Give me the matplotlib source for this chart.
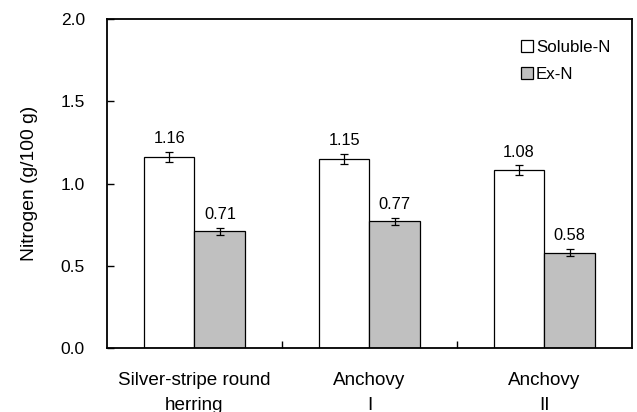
import matplotlib
matplotlib.use('Agg')
import matplotlib.pyplot as plt
from matplotlib.lines import Line2D
import numpy as np

plt.rcParams['font.family'] = ['Liberation Sans', 'DejaVu Sans']

categories = ['Silver-stripe round\nherring', 'Anchovy\nI', 'Anchovy\nII']
soluble_n = [1.16, 1.15, 1.08]
soluble_err = [0.032, 0.03, 0.03]
ex_n = [0.71, 0.77, 0.58]
ex_err = [0.02, 0.022, 0.022]


def main():
    fig = plt.figure(figsize=(6.37, 4.12), dpi=100)
    ax = fig.add_axes([0.168, 0.155, 0.824, 0.799])

    x = np.arange(len(categories))
    w = 0.29
    ekw = dict(ecolor='black', elinewidth=0.9, capsize=3.2, capthick=0.9)
    ax.bar(x - w / 2, soluble_n, w, color='white', edgecolor='black', linewidth=0.9,
           yerr=soluble_err, error_kw=ekw)
    ax.bar(x + w / 2, ex_n, w, color='#c0c0c0', edgecolor='black', linewidth=0.9,
           yerr=ex_err, error_kw=ekw)

    for i in range(len(categories)):
        ax.annotate('%.2f' % soluble_n[i], (x[i] - w / 2, soluble_n[i] + soluble_err[i]),
                    xytext=(0, 4), textcoords='offset points', ha='center', va='bottom', fontsize=11.8)
        ax.annotate('%.2f' % ex_n[i], (x[i] + w / 2, ex_n[i] + ex_err[i]),
                    xytext=(0, 4), textcoords='offset points', ha='center', va='bottom', fontsize=11.8)

    ax.set_xlim(-0.5, 2.5)
    ax.set_ylim(0, 2.0)
    ax.set_yticks([0, 0.5, 1.0, 1.5, 2.0])
    ax.set_yticklabels(['0.0', '0.5', '1.0', '1.5', '2.0'])
    ax.tick_params(axis='y', direction='in', length=5, width=1, labelsize=12.5, pad=16)

    ax.set_xticks(x)
    ax.set_xticklabels(categories, fontsize=13.6, linespacing=1.65)
    ax.tick_params(axis='x', which='major', length=0, pad=17)
    ax.set_xticks([0.5, 1.5], minor=True)
    ax.tick_params(axis='x', which='minor', direction='in', length=5, width=1)

    for s in ax.spines.values():
        s.set_linewidth(1.3)

    ax.set_ylabel('Nitrogen (g/100 g)', fontsize=13.9, labelpad=16)

    handles = [
        Line2D([], [], marker='s', linestyle='none', markersize=8,
               markerfacecolor='white', markeredgecolor='black', markeredgewidth=0.9),
        Line2D([], [], marker='s', linestyle='none', markersize=8,
               markerfacecolor='#c0c0c0', markeredgecolor='black', markeredgewidth=0.9),
    ]
    ax.legend(handles, ['Soluble-N', 'Ex-N'], loc='upper right', frameon=False,
              fontsize=12.2, labelspacing=0.72, handlelength=0.6, handletextpad=0.25,
              bbox_to_anchor=(0.988, 0.982))

    fig.savefig('out.png', dpi=100)
    plt.close(fig)


if __name__ == '__main__':
    main()
